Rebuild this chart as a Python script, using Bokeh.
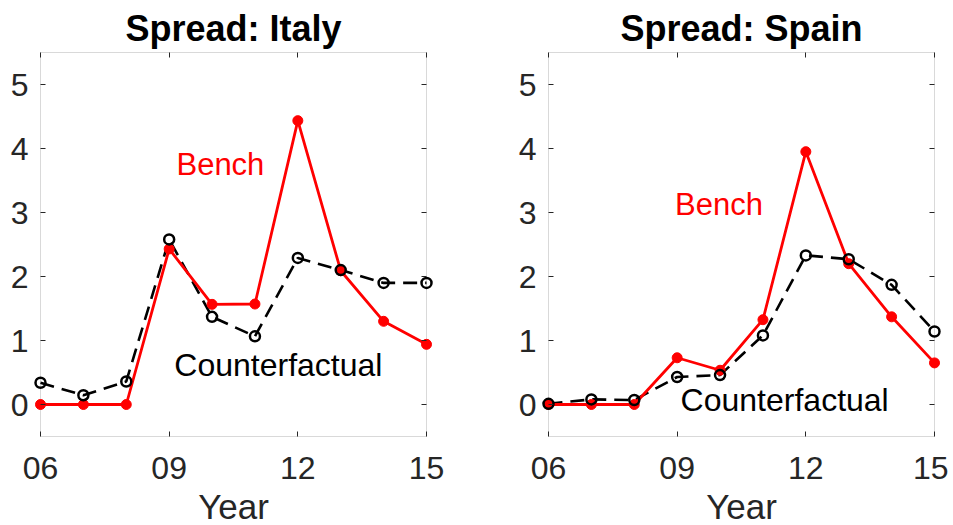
from bokeh.plotting import figure
from bokeh.models import ColumnDataSource, FixedTicker, LinearAxis, Range1d, BoxAnnotation
from bokeh.layouts import row
from bokeh.embed import file_html
from bokeh.resources import INLINE
from bokeh.core.properties import value

years = [6, 7, 8, 9, 10, 11, 12, 13, 14, 15]
x_ticks = [6, 9, 12, 15]
x_tick_labels = {6: "06", 9: "09", 12: "12", 15: "15"}
y_ticks = [0, 1, 2, 3, 4, 5]
x_min, x_max = 6, 15
y_min, y_max = -0.5, 5.5

italy_bench = [0.0, 0.0, 0.0, 2.43, 1.565, 1.57, 4.435, 2.09, 1.30, 0.94]
italy_counter = [0.34, 0.145, 0.36, 2.58, 1.37, 1.065, 2.29, 2.10, 1.90, 1.90]
spain_bench = [0.0, 0.0, 0.0, 0.73, 0.535, 1.325, 3.95, 2.20, 1.37, 0.65]
spain_counter = [0.01, 0.08, 0.07, 0.43, 0.46, 1.08, 2.33, 2.27, 1.87, 1.14]

titles = ["Spread: Italy", "Spread: Spain"]
bench_label_pos = [(9.17, 3.75), (8.95, 3.12)]
counter_label_pos = [(9.12, 0.62), (9.08, 0.07)]

FONT = "Liberation Sans"
AX = "#262626"
BOX = "#808080"
BOX_W = 386   # px, plot box width
BOX_H = 384   # px, plot box height
PADX = 8      # px of room so edge markers are not clipped
PADY = 2


def tick_axis(ticks, loc):
    return LinearAxis(ticker=FixedTicker(ticks=ticks), major_label_text_color=None,
                      major_label_standoff=0, axis_line_color=None, major_tick_line_color=AX,
                      major_tick_in=5, major_tick_out=0, minor_tick_line_color=None,
                      fixed_location=loc)


def make_panel(title, bench, counter, bpos, cpos, right_border):
    xpad = PADX * (x_max - x_min) / BOX_W
    ypad = PADY * (y_max - y_min) / BOX_H
    p = figure(frame_width=BOX_W + 2 * PADX, frame_height=BOX_H + 2 * PADY,
               output_backend="svg", toolbar_location=None,
               x_range=Range1d(x_min - xpad, x_max + xpad),
               y_range=Range1d(y_min - ypad, y_max + ypad),
               min_border_left=40 - PADX, min_border_right=right_border,
               min_border_top=52 - PADY, min_border_bottom=0)
    p.title.text = title
    p.title.align = "center"
    p.title.text_font = FONT
    p.title.text_font_size = "36px"
    p.title.text_font_style = "bold"
    p.title.text_color = "black"
    p.title.standoff = 4
    p.title.offset = 0
    p.grid.visible = False
    p.outline_line_color = None
    p.background_fill_color = "white"
    p.border_fill_color = "white"

    p.add_layout(BoxAnnotation(left=x_min, right=x_max, bottom=y_min, top=y_max,
                               fill_color=None, line_color=BOX, line_width=1, level="underlay"))

    # label-only axes at the frame edges
    for ax in p.xaxis:
        ax.ticker = FixedTicker(ticks=x_ticks)
        ax.major_label_overrides = x_tick_labels
        ax.axis_label = "Year"
        ax.axis_label_text_font = FONT
        ax.axis_label_text_font_size = "35px"
        ax.axis_label_text_font_style = "normal"
        ax.axis_label_text_color = AX
        ax.axis_label_standoff = 5
        ax.major_label_standoff = 18
    for ax in p.yaxis:
        ax.ticker = FixedTicker(ticks=y_ticks)
        ax.major_label_standoff = 12 - PADX
    for ax in list(p.xaxis) + list(p.yaxis):
        ax.major_label_text_font = FONT
        ax.major_label_text_font_size = "32px"
        ax.major_label_text_color = AX
        ax.axis_line_color = None
        ax.major_tick_line_color = None
        ax.major_tick_in = 0
        ax.major_tick_out = 0
        ax.minor_tick_line_color = None

    # tick-only axes on the plot box
    p.add_layout(tick_axis(x_ticks, y_max), "above")
    p.add_layout(tick_axis(x_ticks, y_min), "below")
    p.add_layout(tick_axis(y_ticks, x_min), "left")
    p.add_layout(tick_axis(y_ticks, x_max), "right")

    src = ColumnDataSource(dict(x=years, bench=bench, counter=counter))
    p.line("x", "counter", source=src, line_color="black", line_width=2.6, line_dash="14 8")
    p.line("x", "bench", source=src, line_color="#ff0000", line_width=2.8)
    p.scatter("x", "bench", source=src, size=10, marker="circle", fill_color="#ff0000",
              line_color="#ff0000")
    p.scatter("x", "counter", source=src, size=10, marker="circle", fill_color=None,
              line_color="black", line_width=2.5)

    p.text(x=[bpos[0]], y=[bpos[1]], text=["Bench"], text_font=value(FONT),
           text_font_size="31px", text_color="#ff0000", text_baseline="middle", text_align="left")
    p.text(x=[cpos[0]], y=[cpos[1]], text=["Counterfactual"], text_font=value(FONT),
           text_font_size="32px", text_color="black", text_baseline="middle", text_align="left")
    return p


p1 = make_panel(titles[0], italy_bench, italy_counter, bench_label_pos[0], counter_label_pos[0], 74)
p2 = make_panel(titles[1], spain_bench, spain_counter, bench_label_pos[1], counter_label_pos[1], 6)

layout = row(p1, p2, spacing=0)
open("out.html", "w").write(file_html(layout, INLINE))
